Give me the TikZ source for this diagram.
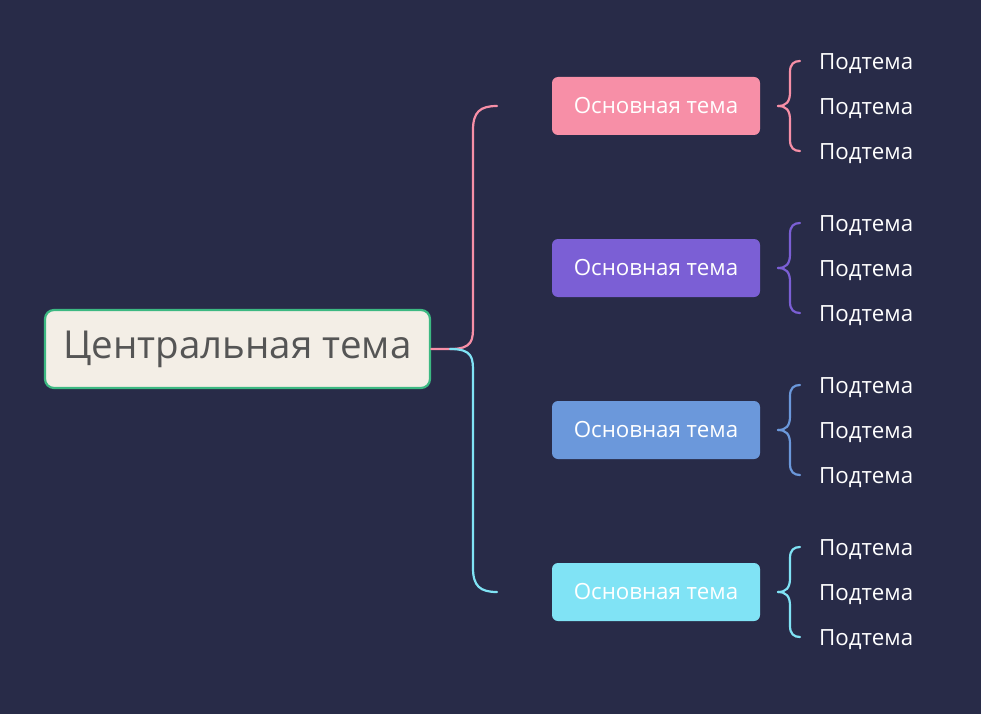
\documentclass[tikz,border=0pt]{standalone}
\usepackage{fontspec}
\setmainfont{Open Sans}
\definecolor{bg}{HTML}{282B48}
\definecolor{cfill}{HTML}{F3EEE6}
\definecolor{cbord}{HTML}{3CB882}
\definecolor{ctext}{HTML}{555555}
\definecolor{pk}{HTML}{F78FA7}
\definecolor{pu}{HTML}{7B5FD5}
\definecolor{bl}{HTML}{6B98DB}
\definecolor{cy}{HTML}{80E3F5}
\begin{document}
\begin{tikzpicture}[x=1pt,y=-1pt,
  main/.style={rounded corners=6pt,minimum width=208pt,minimum height=58pt,text=white,font=\fontsize{22.3}{26}\selectfont,inner sep=0pt},
  sub/.style={anchor=west,text=white,font=\fontsize{22.3}{26}\selectfont,inner sep=0pt},
  br/.style={line width=2.2pt,line cap=round}]
\fill[bg] (0,0) rectangle (981,714);
\node[draw=cbord,line width=2.2pt,fill=cfill,rounded corners=9pt,minimum width=385pt,minimum height=78pt,text=ctext,font=\fontsize{38.5}{42}\selectfont,inner sep=0pt] (c) at (237.5,349) {Центральная тема};
\coordinate (t) at (450,349);
\draw[br,pk] (c.east) -- (t) .. controls (473,349) and (473,340) .. (473,325) -- (473,130) .. controls (473,112) and (480,106) .. (497,106);
\draw[br,cy] (t) .. controls (473,349) and (473,358) .. (473,373) -- (473,568) .. controls (473,586) and (480,592) .. (497,592);
\foreach \y/\col/\n in {106/pk/a,268/pu/b,430/bl/c,592/cy/d}{
  \node[main,fill=\col] (\n) at (656,\y) {Основная тема};
  \coordinate (\n t) at (778,\y);
  \draw[br,\col] (\n t) .. controls (786,\y) and (790,\y-4) .. (790,\y-14) -- (790,\y-34) .. controls (790,\y-42) and (794,\y-45) .. (800,\y-45);
  \draw[br,\col] (\n t) .. controls (786,\y) and (790,\y+4) .. (790,\y+14) -- (790,\y+34) .. controls (790,\y+42) and (794,\y+45) .. (800,\y+45);
  \node[sub] (\n1) at (819,\y-42) {Подтема};
  \node[sub] (\n2) at (819,\y+3) {Подтема};
  \node[sub] (\n3) at (819,\y+48) {Подтема};
}
\end{tikzpicture}
\end{document}
